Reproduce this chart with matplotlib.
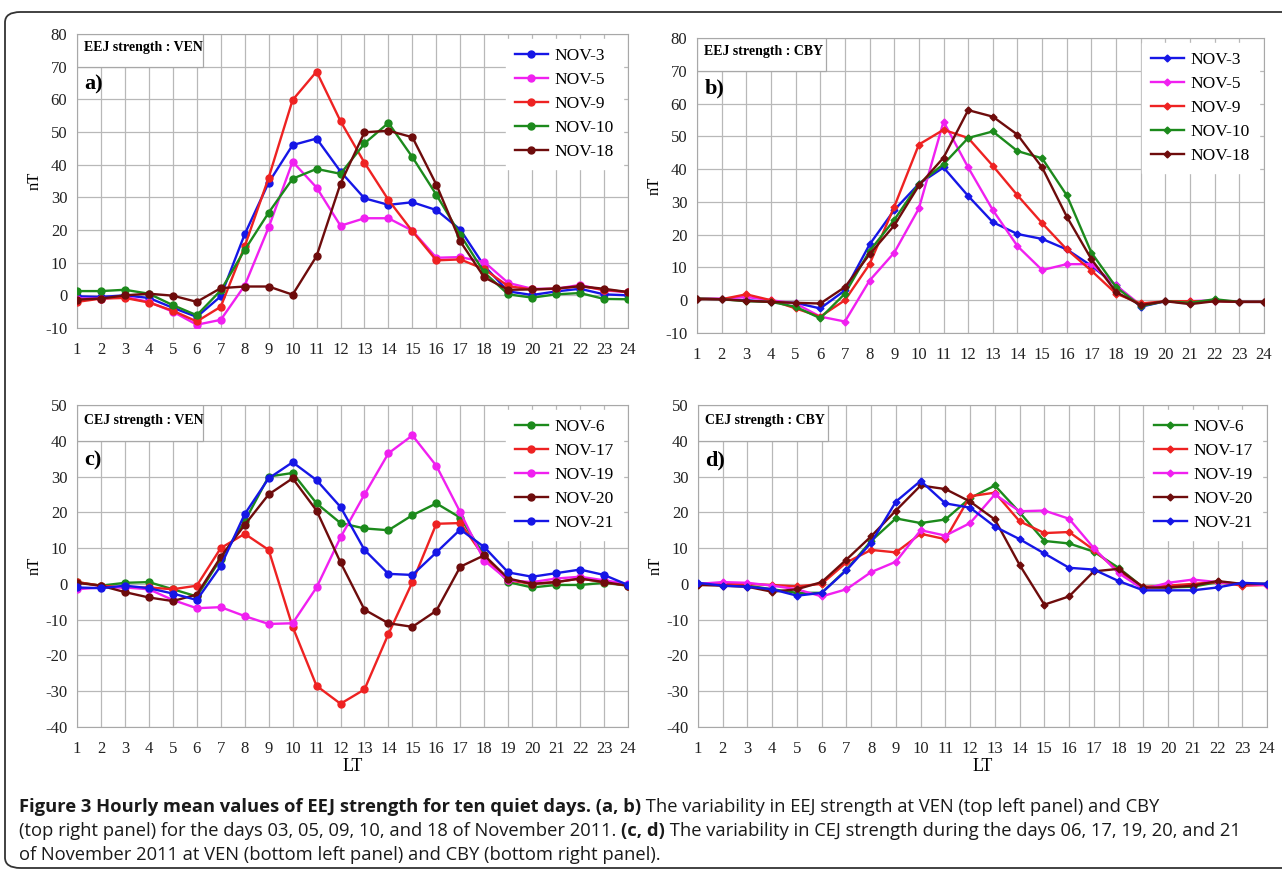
import numpy as np
import matplotlib
matplotlib.use("Agg")
import matplotlib.pyplot as plt
from matplotlib.patches import Rectangle, FancyBboxPatch

plt.rcParams["axes.unicode_minus"] = False

W, H = 1282, 872
hours = list(range(1, 25))

# EEJ strength at VEN (panel a)
ven_eej_labels = ["NOV-3", "NOV-5", "NOV-9", "NOV-10", "NOV-18"]
ven_nov3 = [-0.3, -0.5, 0, -0.8, -3.8, -6.6, -0.3, 18.7, 34.5, 46, 48, 37.9, 29.7, 27.7, 28.5, 26.1, 20.1, 9, 1.2, 0.1, 1.2, 2, 0.3, 0]
ven_nov5 = [-1, -1, -0.5, -2, -5, -9, -7.5, 3, 20.8, 40.9, 33, 21.3, 23.6, 23.6, 19.8, 11.5, 11.7, 10.2, 3.8, 2, 2, 3.2, 1.5, 1]
ven_nov9 = [-2, -1, -0.8, -2.2, -4.7, -8, -3.5, 15, 36, 59.8, 68.5, 53.3, 40.6, 29.2, 19.6, 10.7, 11, 8, 2.8, 1.8, 2, 2.8, 1.7, 1]
ven_nov10 = [1.3, 1.3, 1.7, 0.5, -3, -6.1, 1.5, 13.9, 25.3, 35.7, 38.7, 37.2, 46.5, 52.8, 42.3, 30.8, 18.5, 7, 0.3, -0.7, 0.3, 0.7, -1.1, -1.2]
ven_nov18 = [-1.3, -1, 0, 0.5, -0.1, -2, 2.2, 2.7, 2.7, 0.2, 12, 34.2, 49.9, 50.4, 48.4, 33.9, 16.5, 5.5, 1.7, 1.8, 2.1, 2.8, 2, 1]

# EEJ strength at CBY (panel b)
cby_nov3 = [0.5, 0.3, 0, -0.5, -0.8, -2.5, 3, 17, 27.5, 35.5, 40.5, 31.8, 23.8, 20.2, 18.7, 15.5, 10.5, 4.5, -2, -0.3, -0.8, -0.2, -0.5, -0.5]
cby_nov5 = [0.5, 0.5, 1, 0, -1, -5, -6.5, 6, 14.5, 28, 54.5, 40.5, 27.5, 16.5, 9.2, 11, 11, 4.5, -1.5, -0.3, -0.3, 0, -0.5, -0.5]
cby_nov9 = [0.5, 0.3, 1.8, 0, -2.5, -5, 0, 11, 28.5, 47.5, 52, 49.5, 41, 32, 23.5, 15.5, 9, 2, -1, -0.3, -0.3, -0.3, -0.5, -0.5]
cby_nov10 = [0.5, 0.3, -0.3, -0.5, -2, -5.5, 2, 15, 24.5, 35.5, 41.5, 49.5, 51.5, 45.5, 43.3, 32, 14.5, 4, -1.8, -0.3, -0.8, 0.3, -0.5, -0.5]
cby_nov18 = [0.3, 0.3, -0.2, -0.5, -0.8, -1, 4, 14, 22.8, 35, 43.5, 58, 56, 50.5, 40.5, 25.5, 12.5, 2.5, -1.5, -0.3, -1.2, -0.3, -0.5, -0.5]

# CEJ strength at VEN (panel c)
cej_labels = ["NOV-6", "NOV-17", "NOV-19", "NOV-20", "NOV-21"]
venc_nov6 = [0.5, -0.5, 0.3, 0.5, -1.5, -3.5, 7, 17.5, 30, 31, 22.5, 17, 15.5, 15, 19.2, 22.5, 18.5, 8, 0.5, -1, -0.3, -0.3, 0.3, -0.5]
venc_nov17 = [0.5, -0.5, -1, -1, -1.5, -0.5, 10, 14, 9.5, -12, -28.5, -33.5, -29.5, -14, 0.5, 16.8, 17, 7.5, 1, 0, 0.5, 1.5, 0.5, -0.5]
venc_nov19 = [-1.5, -1, -1, -1.5, -4.5, -6.8, -6.5, -9, -11.2, -11, -1, 13, 25, 36.5, 41.5, 33, 20, 6.5, 1, 0.5, 1.5, 2, 1, 0]
venc_nov20 = [0.3, -0.5, -2.3, -3.8, -4.8, -3, 7.5, 16.5, 25, 29.5, 20.5, 6, -7.2, -11, -12, -7.5, 4.8, 8, 1.5, 0, 0.5, 1.5, 0.5, -0.5]
venc_nov21 = [-1, -1.2, -0.5, -1.2, -2.7, -4.5, 5, 19.5, 29.5, 34, 29, 21.5, 9.5, 2.8, 2.5, 8.8, 15.2, 10.3, 3.2, 2, 3, 4, 2.5, -0.3]

# CEJ strength at CBY (panel d)
cbyc_nov6 = [0, -0.3, -0.5, -1.5, -2.5, -2.5, 4, 12, 18.3, 17, 18, 24, 27.5, 20, 12, 11.3, 9, 4.5, -1, -1, -0.8, 0.5, 0, 0]
cbyc_nov17 = [0, 0, 0, -0.3, -0.7, 0, 6, 9.5, 8.8, 14, 12.5, 24.5, 25.5, 17.5, 14.2, 14.5, 9.5, 3.5, -0.8, -0.5, 0, 0.5, -0.5, -0.3]
cbyc_nov19 = [0, 0.5, 0.3, -0.5, -1.5, -3.5, -1.5, 3.3, 6.2, 15, 13.5, 17, 25, 20.3, 20.5, 18.2, 10, 3, -1.5, 0.3, 1.2, 0.5, 0, -0.3]
cbyc_nov20 = [-0.3, -0.5, -0.8, -2.2, -1.5, 0.5, 6.8, 13.3, 20.5, 27.5, 26.5, 23, 18, 5.3, -5.8, -3.5, 3.5, 4.2, -1, -1, -0.5, 0.8, 0, 0]
cbyc_nov21 = [0.3, -0.5, -0.8, -1.5, -3.3, -2.5, 3.8, 11.5, 23, 28.8, 22.5, 21.3, 16, 12.5, 8.5, 4.5, 4, 0.8, -1.8, -1.8, -1.8, -1, 0.3, 0]

BLUE, PINK, RED, GREEN, BROWN = "#1616e6", "#f020f0", "#ee2222", "#1c8a1c", "#6e0c0c"
eej_colors = [BLUE, PINK, RED, GREEN, BROWN]
cej_colors = [GREEN, RED, PINK, BROWN, BLUE]

SERIF = "Liberation Serif"

fig = plt.figure(figsize=(W / 100, H / 100), dpi=100)


def px_axes(l, r, t, b):
    return fig.add_axes([l / W, 1 - b / H, (r - l) / W, (b - t) / H])


def draw_panel(ax, series, labels, colors, marker, ms, ylim, title, tag, xlabel):
    for ys, lab, c in zip(series, labels, colors):
        ax.plot(hours, ys, color=c, lw=1.7, marker=marker, ms=ms, label=lab, zorder=4)
    ax.set_xlim(1, 24)
    ax.set_ylim(*ylim)
    ax.set_xticks(hours)
    ax.set_yticks(range(ylim[0], ylim[1] + 1, 10))
    ax.grid(True, color="#b8b8b8", lw=0.9)
    ax.set_axisbelow(True)
    for s in ax.spines.values():
        s.set_color("#a8a8a8")
    ax.tick_params(axis="x", length=0, labelsize=12, pad=10, colors="#222222")
    ax.tick_params(axis="y", length=0, labelsize=12, pad=7, colors="#222222")
    for lb in ax.get_xticklabels() + ax.get_yticklabels():
        lb.set_family(SERIF)
    ax.set_ylabel("nT", family=SERIF, fontsize=12, labelpad=2)
    if xlabel:
        ax.set_xlabel("LT", family=SERIF, fontsize=13, labelpad=1)
    top = ylim[1]
    ax.add_patch(Rectangle((1, top - 10), 5.25, 10, facecolor="white",
                           edgecolor="#a8a8a8", lw=0.9, zorder=2))
    ax.text(1.3, top - 4.2, title, family=SERIF, fontweight="bold",
            fontsize=10, va="center", zorder=3)
    ax.text(1.3, top - 15.5, tag, family=SERIF, fontweight="bold",
            fontsize=16, va="center", zorder=3)
    leg = ax.legend(loc="upper right", prop={"family": SERIF, "size": 12.5},
                    frameon=True, fancybox=False, edgecolor="white",
                    framealpha=1, borderaxespad=0.3, handlelength=1.9,
                    labelspacing=0.45, handletextpad=0.4, borderpad=0.5)
    leg.set_zorder(5)


ax_a = px_axes(77, 628, 34, 328)
draw_panel(ax_a, [ven_nov3, ven_nov5, ven_nov9, ven_nov10, ven_nov18], ven_eej_labels,
           eej_colors, "o", 5, (-10, 80), "EEJ strength : VEN", "a)", False)

ax_b = px_axes(697, 1264, 38, 333)
draw_panel(ax_b, [cby_nov3, cby_nov5, cby_nov9, cby_nov10, cby_nov18], ven_eej_labels,
           eej_colors, "D", 3.5, (-10, 80), "EEJ strength : CBY", "b)", False)

ax_c = px_axes(77, 628, 405, 727)
draw_panel(ax_c, [venc_nov6, venc_nov17, venc_nov19, venc_nov20, venc_nov21], cej_labels,
           cej_colors, "o", 5, (-40, 50), "CEJ strength : VEN", "c)", True)

ax_d = px_axes(698, 1267, 405, 727)
draw_panel(ax_d, [cbyc_nov6, cbyc_nov17, cbyc_nov19, cbyc_nov20, cbyc_nov21], cej_labels,
           cej_colors, "D", 3.5, (-40, 50), "CEJ strength : CBY", "d)", True)

# outer rounded frame
frame = FancyBboxPatch((5 / W, 4 / H), 1.02, 1 - 16 / H,
                       boxstyle="round,pad=0,rounding_size=0.012",
                       transform=fig.transFigure, facecolor="none",
                       edgecolor="#333333", lw=1.3, clip_on=False)
fig.patches.append(frame)

# caption, drawn run by run so bold and regular parts can share a line
CAP = ["Open Sans", "DejaVu Sans"]
cap_size = 13.2
renderer = fig.canvas.get_renderer()
caption_lines = [
    [("Figure 3 Hourly mean values of EEJ strength for ten quiet days. (a, b)", "bold"),
     (" The variability in EEJ strength at VEN (top left panel) and CBY", "normal")],
    [("(top right panel) for the days 03, 05, 09, 10, and 18 of November 2011. ", "normal"),
     ("(c, d)", "bold"),
     (" The variability in CEJ strength during the days 06, 17, 19, 20, and 21", "normal")],
    [("of November 2011 at VEN (bottom left panel) and CBY (bottom right panel).", "normal")],
]
line_y = [807, 831, 855]
for runs, yy in zip(caption_lines, line_y):
    x = 19 / W
    for txt, weight in runs:
        t = fig.text(x, 1 - yy / H, txt, family=CAP, fontweight=weight,
                     fontsize=cap_size, va="center", ha="left", color="#1a1a1a")
        x += t.get_window_extent(renderer).width / W

fig.savefig("out.png", dpi=100)
